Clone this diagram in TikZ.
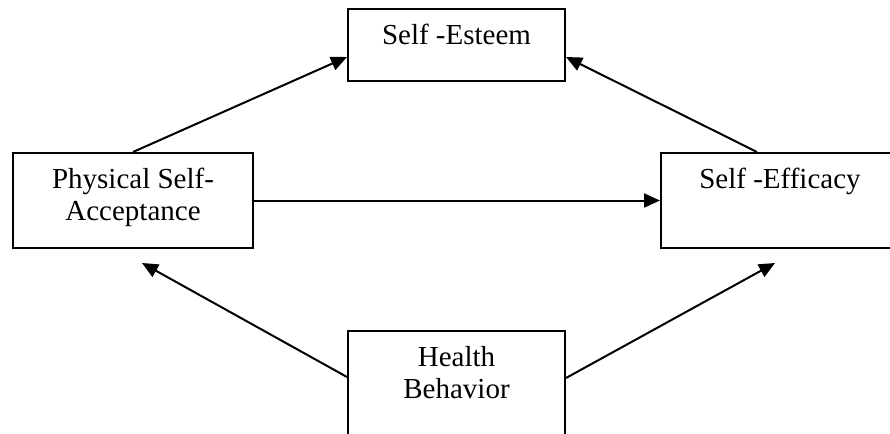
\documentclass[tikz,border=0pt]{standalone}
\usepackage{fontspec}
\setmainfont{Liberation Serif}
\usetikzlibrary{arrows.meta}
\usetikzlibrary{positioning}

\tikzset{
  modelbox/.style={draw, line width=1pt, inner sep=0pt, minimum width=#1},
  boxtext/.style={anchor=north, yshift=-8pt, inner sep=0pt, align=center,
    font=\fontsize{14.5}{16}\selectfont},
  path/.style={line width=1pt, -{Triangle[length=8pt,width=7pt]}}
}

\begin{document}
\begin{tikzpicture}
    \useasboundingbox (0,0) rectangle (445pt,-217pt);
    \clip (0,0) rectangle (445pt,-217pt);

    % the four constructs
    \node[modelbox=108.5pt, minimum height=36pt,
      label={[boxtext, name=esteemtext]north:Self -Esteem}]
      (esteem) at (228.25pt,-22.5pt) {};
    \node[modelbox=120pt, minimum height=47.5pt,
      label={[boxtext, name=physicaltext]north:Physical Self-\\Acceptance}]
      (physical) at (66.5pt,-100.25pt) {};
    \node[modelbox=140pt, minimum height=47.5pt,
      label={[boxtext, name=efficacytext, xshift=-10.5pt]north:Self -Efficacy}]
      (efficacy) at (400.5pt,-100.25pt) {};
    \node[modelbox=108.5pt, minimum height=60pt,
      label={[boxtext, name=healthtext]north:Health\\Behavior}]
      (health) at (228.25pt,-195.5pt) {};

    % paths
    \draw[path] (physical.north) -- ([yshift=-6pt]esteem.west);
    \draw[path] ([xshift=-22pt]efficacy.north) -- ([yshift=-6pt]esteem.east);
    \draw[path] (physical.east) -- (efficacy.west);
    \draw[path] ([yshift=7pt]health.west) -- ([xshift=4.5pt,yshift=-7pt]physical.south);
    \draw[path] ([yshift=6.5pt]health.east) -- ([xshift=-13pt,yshift=-7pt]efficacy.south);

  \end{tikzpicture}
\end{document}
